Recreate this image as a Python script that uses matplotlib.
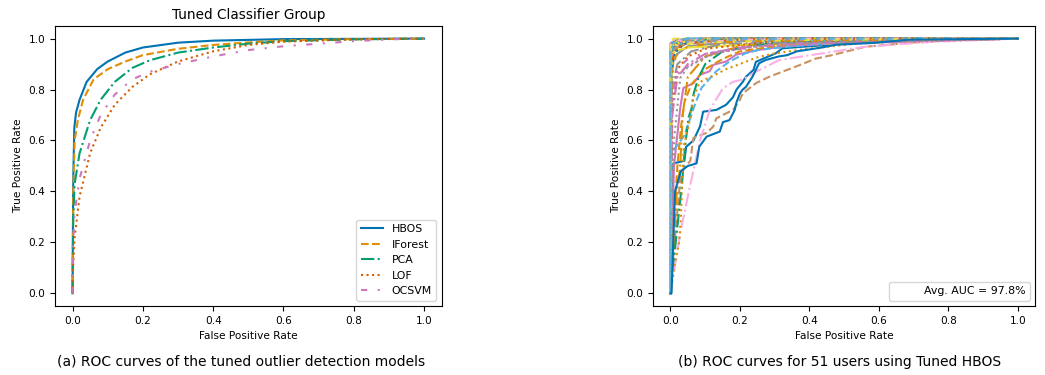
import matplotlib
matplotlib.use("Agg")
from matplotlib import pyplot as plt
from matplotlib.lines import Line2D

# seaborn "colorblind" palette
palette = ["#0173b2", "#de8f05", "#029e73", "#d55e00", "#cc78bc",
           "#ca9161", "#fbafe4", "#949494", "#ece133", "#56b4e9"]
styles = ["-", "--", "-.", ":", (0, (3, 5, 1, 5))]

# ---- (a) tuned models: (fpr, tpr)
models = ["HBOS", "IForest", "PCA", "LOF", "OCSVM"]
fpr_hbos = [0, 0.002, 0.005, 0.01, 0.02, 0.04, 0.07, 0.1, 0.15, 0.2, 0.3, 0.4, 0.6, 1.0]
tpr_hbos = [0, 0.45, 0.65, 0.71, 0.76, 0.83, 0.88, 0.91, 0.945, 0.965, 0.984, 0.992, 0.998, 1.0]
fpr_ifor = [0, 0.002, 0.006, 0.015, 0.03, 0.06, 0.1, 0.15, 0.2, 0.3, 0.4, 0.5, 0.6, 0.8, 1.0]
tpr_ifor = [0, 0.4, 0.6, 0.68, 0.76, 0.84, 0.88, 0.91, 0.935, 0.96, 0.975, 0.985, 0.993, 0.998, 1.0]
fpr_pca = [0, 0.002, 0.006, 0.02, 0.05, 0.08, 0.12, 0.17, 0.22, 0.3, 0.4, 0.5, 0.6, 0.8, 1.0]
tpr_pca = [0, 0.3, 0.43, 0.55, 0.68, 0.76, 0.83, 0.885, 0.915, 0.945, 0.965, 0.98, 0.99, 0.997, 1.0]
fpr_lof = [0, 0.002, 0.006, 0.02, 0.05, 0.08, 0.12, 0.17, 0.22, 0.3, 0.4, 0.5, 0.6, 0.8, 1.0]
tpr_lof = [0, 0.12, 0.22, 0.38, 0.55, 0.65, 0.74, 0.81, 0.86, 0.91, 0.95, 0.975, 0.988, 0.997, 1.0]
fpr_ocsvm = [0, 0.002, 0.006, 0.02, 0.05, 0.08, 0.12, 0.17, 0.22, 0.3, 0.4, 0.5, 0.6, 0.7, 0.8, 0.9, 1.0]
tpr_ocsvm = [0, 0.2, 0.32, 0.45, 0.6, 0.7, 0.78, 0.84, 0.87, 0.9, 0.93, 0.955, 0.97, 0.98, 0.99, 0.997, 1.0]
model_fpr = [fpr_hbos, fpr_ifor, fpr_pca, fpr_lof, fpr_ocsvm]
model_tpr = [tpr_hbos, tpr_ifor, tpr_pca, tpr_lof, tpr_ocsvm]

# ---- (b) per-user ROC curves of tuned HBOS, (fpr, tpr) pairs
users_roc = [
    # 0
    [(0, 0), (0.003, 0.3), (0.008, 0.51), (0.04, 0.52), (0.045, 0.575), (0.066, 0.6), (0.085, 0.655),
     (0.094, 0.713), (0.132, 0.72), (0.16, 0.74), (0.18, 0.77), (0.19, 0.8), (0.208, 0.83), (0.217, 0.85),
     (0.239, 0.877), (0.246, 0.909), (0.303, 0.942), (0.322, 0.962), (0.4, 0.97), (0.5, 0.98),
     (0.6, 0.99), (0.75, 0.995), (1, 1)],
    [(0, 0), (0.0, 0.9), (0.005, 0.97), (0.02, 0.99), (0.1, 1), (1, 1)],
    [(0, 0), (0.0, 0.95), (0.01, 0.985), (0.05, 0.995), (0.2, 1), (1, 1)],
    [(0, 0), (0.002, 0.9), (0.01, 0.96), (0.04, 0.98), (0.15, 0.995), (1, 1)],
    [(0, 0), (0.01, 0.5), (0.028, 0.727), (0.037, 0.806), (0.066, 0.825), (0.085, 0.858), (0.113, 0.872),
     (0.123, 0.897), (0.16, 0.91), (0.189, 0.937), (0.255, 0.956), (0.33, 0.97), (0.45, 0.98), (1, 1)],
    [(0, 0), (0.0, 0.93), (0.01, 0.97), (0.05, 0.99), (0.3, 1), (1, 1)],
    [(0, 0), (0.0, 0.96), (0.01, 0.99), (0.1, 1), (1, 1)],
    [(0, 0), (0.003, 0.85), (0.01, 0.93), (0.05, 0.97), (0.2, 0.99), (1, 1)],
    [(0, 0), (0.003, 0.9), (0.01, 0.95), (0.05, 0.965), (0.2, 0.975), (0.45, 0.98), (0.6, 0.99), (1, 1)],
    [(0, 0), (0.0, 0.97), (0.01, 0.99), (0.05, 1), (1, 1)],
    # 10
    [(0, 0), (0.0, 0.98), (0.02, 0.995), (0.1, 1), (1, 1)],
    [(0, 0), (0.01, 0.3), (0.02, 0.5), (0.03, 0.65), (0.04, 0.75), (0.06, 0.82), (0.1, 0.88), (0.15, 0.92),
     (0.2, 0.95), (0.3, 0.97), (0.5, 0.99), (1, 1)],
    [(0, 0), (0.0, 0.92), (0.01, 0.97), (0.04, 0.99), (0.2, 1), (1, 1)],
    [(0, 0), (0.002, 0.88), (0.01, 0.95), (0.03, 0.98), (0.1, 0.995), (1, 1)],
    [(0, 0), (0.0, 0.95), (0.01, 0.98), (0.05, 0.99), (0.3, 1), (1, 1)],
    [(0, 0), (0.005, 0.1), (0.015, 0.25), (0.025, 0.4), (0.03, 0.47), (0.042, 0.497), (0.057, 0.52),
     (0.066, 0.61), (0.104, 0.63), (0.123, 0.654), (0.132, 0.687), (0.18, 0.72), (0.2, 0.76),
     (0.208, 0.785), (0.227, 0.805), (0.246, 0.825), (0.284, 0.85), (0.322, 0.87), (0.37, 0.895),
     (0.417, 0.921), (0.465, 0.935), (0.56, 0.968), (0.7, 0.985), (0.86, 0.997), (1, 1)],
    [(0, 0), (0.0, 0.97), (0.02, 0.99), (0.08, 1), (1, 1)],
    [(0, 0), (0.002, 0.9), (0.01, 0.96), (0.05, 0.985), (0.2, 1), (1, 1)],
    [(0, 0), (0.0, 0.99), (0.01, 1), (1, 1)],
    [(0, 0), (0.003, 0.55), (0.04, 0.62), (0.06, 0.7), (0.07, 0.74), (0.089, 0.806), (0.113, 0.843),
     (0.132, 0.872), (0.17, 0.91), (0.217, 0.943), (0.255, 0.956), (0.35, 0.97), (0.5, 0.985), (1, 1)],
    # 20
    [(0, 0), (0.0, 0.94), (0.01, 0.98), (0.05, 0.995), (1, 1)],
    [(0, 0), (0.01, 0.2), (0.018, 0.39), (0.028, 0.5), (0.035, 0.7), (0.05, 0.85), (0.1, 0.93),
     (0.2, 0.97), (0.4, 0.99), (1, 1)],
    [(0, 0), (0.005, 0.07), (0.019, 0.25), (0.033, 0.43), (0.042, 0.576), (0.052, 0.69), (0.061, 0.727),
     (0.066, 0.78), (0.08, 0.845), (0.1, 0.9), (0.15, 0.95), (0.3, 0.985), (1, 1)],
    [(0, 0), (0.0, 0.96), (0.01, 0.985), (0.1, 1), (1, 1)],
    [(0, 0), (0.005, 0.7), (0.02, 0.85), (0.05, 0.9), (0.1, 0.94), (0.2, 0.965), (0.35, 0.98), (1, 1)],
    [(0, 0), (0.0, 0.9), (0.01, 0.96), (0.05, 0.98), (0.2, 0.995), (1, 1)],
    [(0, 0), (0.028, 0.236), (0.056, 0.42), (0.085, 0.6), (0.113, 0.72), (0.151, 0.805), (0.18, 0.83),
     (0.208, 0.84), (0.246, 0.87), (0.312, 0.915), (0.37, 0.928), (0.465, 0.948), (0.56, 0.968),
     (0.75, 0.987), (1, 1)],
    [(0, 0), (0.003, 0.8), (0.02, 0.9), (0.06, 0.95), (0.15, 0.98), (1, 1)],
    [(0, 0), (0.0, 0.97), (0.02, 0.99), (0.1, 1), (1, 1)],
    [(0, 0), (0.0, 0.95), (0.01, 0.98), (0.06, 1), (1, 1)],
    # 30
    [(0, 0), (0.002, 0.85), (0.01, 0.94), (0.04, 0.98), (0.15, 1), (1, 1)],
    [(0, 0), (0.01, 0.1), (0.025, 0.2), (0.03, 0.3), (0.038, 0.576), (0.052, 0.654), (0.066, 0.77),
     (0.085, 0.83), (0.132, 0.86), (0.16, 0.88), (0.2, 0.9), (0.246, 0.925), (0.293, 0.94), (0.33, 0.948),
     (0.397, 0.96), (0.465, 0.97), (0.58, 0.987), (1, 1)],
    [(0, 0), (0.0, 0.93), (0.01, 0.97), (0.05, 0.99), (0.2, 1), (1, 1)],
    [(0, 0), (0.005, 0.75), (0.02, 0.88), (0.05, 0.93), (0.1, 0.96), (0.3, 0.99), (1, 1)],
    [(0, 0), (0.004, 0.8), (0.02, 0.86), (0.06, 0.9), (0.12, 0.94), (0.25, 0.97), (1, 1)],
    [(0, 0), (0.0, 0.96), (0.02, 0.985), (0.1, 1), (1, 1)],
    [(0, 0), (0.0, 0.98), (0.01, 0.995), (1, 1)],
    [(0, 0), (0.01, 0.6), (0.028, 0.845), (0.047, 0.884), (0.094, 0.924), (0.15, 0.95), (0.3, 0.98), (1, 1)],
    [(0, 0), (0.0, 0.95), (0.01, 0.98), (0.08, 0.995), (1, 1)],
    [(0, 0), (0.002, 0.9), (0.01, 0.97), (0.05, 0.99), (1, 1)],
    # 40
    [(0, 0), (0.0, 0.97), (0.01, 0.99), (0.05, 1), (1, 1)],
    [(0, 0), (0.003, 0.85), (0.015, 0.93), (0.05, 0.97), (0.2, 0.99), (1, 1)],
    [(0, 0), (0.0, 0.94), (0.02, 0.98), (0.1, 0.995), (1, 1)],
    [(0, 0), (0.002, 0.9), (0.01, 0.96), (0.06, 0.985), (0.25, 1), (1, 1)],
    [(0, 0), (0.005, 0.75), (0.018, 0.88), (0.05, 0.92), (0.085, 0.937), (0.16, 0.953), (0.255, 0.97),
     (0.33, 0.98), (1, 1)],
    [(0, 0), (0.0, 0.96), (0.02, 0.99), (0.1, 1), (1, 1)],
    [(0, 0), (0.0, 0.92), (0.01, 0.97), (0.05, 0.985), (0.3, 1), (1, 1)],
    [(0, 0), (0.0, 0.98), (0.01, 0.995), (1, 1)],
    [(0, 0), (0.0, 0.95), (0.01, 0.975), (0.1, 0.985), (0.4, 0.995), (1, 1)],
    [(0, 0), (0.0, 0.96), (0.01, 0.99), (0.05, 1), (1, 1)],
    # 50
    [(0, 0), (0.003, 0.0), (0.008, 0.2), (0.013, 0.4), (0.03, 0.48), (0.05, 0.5), (0.075, 0.51),
     (0.083, 0.576), (0.104, 0.615), (0.142, 0.635), (0.151, 0.672), (0.17, 0.68), (0.185, 0.72),
     (0.19, 0.75), (0.2, 0.785), (0.208, 0.8), (0.217, 0.81), (0.236, 0.85), (0.255, 0.903),
     (0.274, 0.916), (0.312, 0.93), (0.336, 0.935), (0.364, 0.95), (0.426, 0.963), (0.478, 0.976),
     (0.583, 0.983), (0.69, 0.996), (1, 1)],
]
avg_auc_label = "Avg. AUC = 97.8%"

fig = plt.figure(figsize=(10.45, 3.75), dpi=100)
ax1 = fig.add_axes([0.0526, 0.184, 0.370, 0.747])
ax2 = fig.add_axes([0.625, 0.184, 0.3656, 0.747])
fs = 7.6

for i, name in enumerate(models):
    ax1.plot(model_fpr[i], model_tpr[i], color=palette[i], linestyle=styles[i], lw=1.5, label=name)
ax1.set_title("Tuned Classifier Group", fontsize=9.8, pad=5)
ax1.legend(loc="lower right", fontsize=7.9)

for i, pts in enumerate(users_roc):
    xs = [p[0] for p in pts]
    ys = [p[1] for p in pts]
    ax2.plot(xs, ys, color=palette[i % 10], linestyle=styles[(i // 10) % 5], lw=1.5)
ax2.legend([Line2D([], [], alpha=0)], [avg_auc_label], loc="lower right", fontsize=7.9)

for ax in (ax1, ax2):
    ax.set_xlabel("False Positive Rate", fontsize=fs)
    ax.set_ylabel("True Positive Rate", fontsize=fs)
    ax.set_xticks([0, 0.2, 0.4, 0.6, 0.8, 1.0])
    ax.set_yticks([0, 0.2, 0.4, 0.6, 0.8, 1.0])
    ax.tick_params(labelsize=fs)
    ax.set_xlim(-0.05, 1.05)
    ax.set_ylim(-0.05, 1.05)

fig.text(0.231, 0.025, "(a) ROC curves of the tuned outlier detection models", ha="center", fontsize=10)
fig.text(0.803, 0.025, "(b) ROC curves for 51 users using Tuned HBOS", ha="center", fontsize=10)

fig.savefig("out.png", dpi=100)
